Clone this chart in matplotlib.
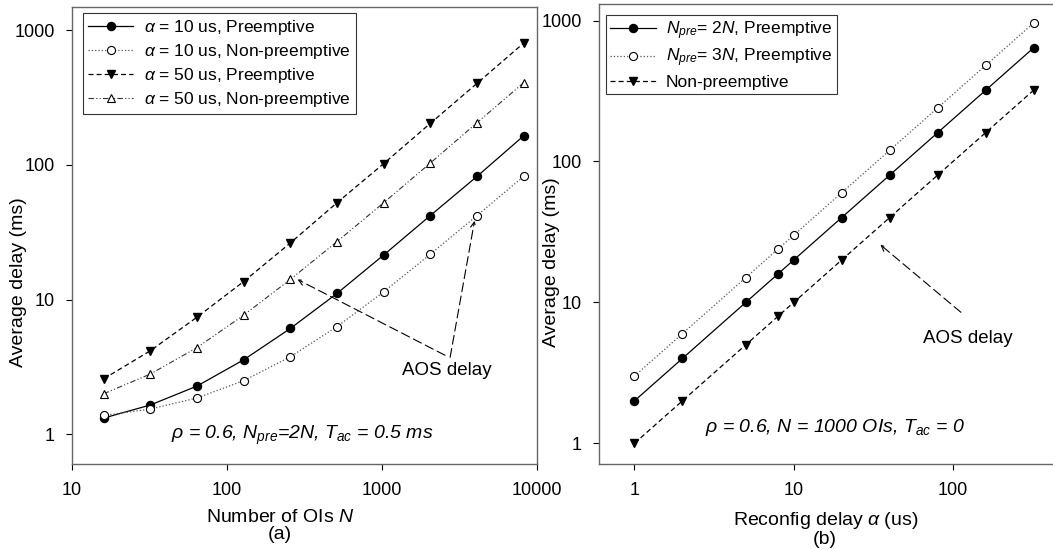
import matplotlib
matplotlib.use("Agg")
import matplotlib.pyplot as plt

plt.rcParams['font.family'] = ['Liberation Sans', 'DejaVu Sans']
plt.rcParams['mathtext.fontset'] = 'custom'
plt.rcParams['mathtext.rm'] = 'Liberation Sans'
plt.rcParams['mathtext.it'] = 'Liberation Sans:italic'
plt.rcParams['mathtext.bf'] = 'Liberation Sans:bold'

# (a) delay vs number of OIs
n_ois = [16, 32, 64, 128, 256, 512, 1024, 2048, 4096, 8192]
a10_pre = [1.32, 1.65, 2.28, 3.57, 6.1, 11.1, 21.4, 42, 82, 164]
a10_non = [1.38, 1.54, 1.86, 2.5, 3.76, 6.3, 11.4, 21.7, 42, 82]
a50_pre = [2.58, 4.17, 7.4, 13.6, 26.3, 52.3, 102, 203, 402, 800]
a50_non = [2.0, 2.8, 4.4, 7.66, 14.1, 26.9, 52.3, 103, 205, 407]

# (b) delay vs reconfig delay
alpha_us = [1, 2, 5, 8, 10, 20, 40, 80, 160, 320]
npre2_pre = [2, 4, 10, 16, 20, 40, 80, 160, 320, 640]
npre3_pre = [3, 6, 15, 24, 30, 60, 120, 240, 480, 960]
b_non = [1, 2, 5, 8, 10, 20, 40, 80, 160, 320]

fig = plt.figure(figsize=(10.53, 5.5), dpi=100)
ax1 = fig.add_axes([0.0684, 0.156, 0.4416, 0.831])
ax2 = fig.add_axes([0.569, 0.156, 0.431, 0.8375])

ms = 5.8
ax1.plot(n_ois, a10_pre, '-', color='black', lw=0.9, marker='o', ms=ms,
         mfc='black', mec='black', label=r'$\alpha$ = 10 us, Preemptive')
ax1.plot(n_ois, a10_non, ':', color='#555555', lw=0.9, marker='o', ms=ms,
         mfc='white', mec='black', mew=0.8, label=r'$\alpha$ = 10 us, Non-preemptive')
ax1.plot(n_ois, a50_pre, '--', color='black', lw=0.9, marker='v', ms=ms,
         mfc='black', mec='black', dashes=(4, 2.5), label=r'$\alpha$ = 50 us, Preemptive')
ax1.plot(n_ois, a50_non, color='#333333', lw=0.8, marker='^', ms=ms,
         mfc='white', mec='black', mew=0.8, linestyle=(0, (5, 2, 1, 2, 1, 2)),
         label=r'$\alpha$ = 50 us, Non-preemptive')

ax2.plot(alpha_us, npre2_pre, '-', color='black', lw=0.9, marker='o', ms=ms,
         mfc='black', mec='black', label=r'$N_{pre}$= 2$N$, Preemptive')
ax2.plot(alpha_us, npre3_pre, ':', color='#555555', lw=0.9, marker='o', ms=ms,
         mfc='white', mec='black', mew=0.8, label=r'$N_{pre}$= 3$N$, Preemptive')
ax2.plot(alpha_us, b_non, '--', color='black', lw=0.9, marker='v', ms=ms,
         mfc='black', mec='black', dashes=(4, 2.5), label='Non-preemptive')

for ax in (ax1, ax2):
    ax.set_xscale('log')
    ax.set_yscale('log')
    ax.minorticks_off()
    ax.tick_params(axis='both', which='major', direction='out', length=4.5,
                   width=0.8, pad=8, labelsize=13, colors='black')
    for sp in ax.spines.values():
        sp.set_color('#666666')
        sp.set_linewidth(1.0)
    ax.set_ylabel('Average delay (ms)', fontsize=14)

ax1.set_xlim(10, 10000)
ax1.set_ylim(0.6, 1480)
ax1.set_xticks([10, 100, 1000, 10000])
ax1.set_xticklabels(['10', '100', '1000', '10000'])
ax1.set_yticks([1, 10, 100, 1000])
ax1.set_yticklabels(['1', '10', '100', '1000'])

ax2.set_xlim(0.6, 424)
ax2.set_ylim(0.71, 1320)
ax2.set_xticks([1, 10, 100])
ax2.set_xticklabels(['1', '10', '100'])
ax2.set_yticks([1, 10, 100, 1000])
ax2.set_yticklabels(['1', '10', '100', '1000'])
ax2.spines['right'].set_visible(False)

ax1.set_xlabel('Number of OIs $N$\n(a)', fontsize=14, linespacing=1.0)
ax2.set_xlabel('Reconfig delay $\\alpha$ (us)\n(b)', fontsize=14, linespacing=1.0)
ax1.xaxis.set_label_coords(0.447, -0.097)
ax2.xaxis.set_label_coords(0.498, -0.099)
ax1.yaxis.set_label_coords(-0.097, 0.398)
ax2.yaxis.set_label_coords(-0.086, 0.439)

leg1 = ax1.legend(loc='upper left', bbox_to_anchor=(0.0237, 0.987), borderaxespad=0,
                  fontsize=12.5, frameon=True, fancybox=False, handlelength=2.6,
                  handletextpad=0.6, labelspacing=0.28, borderpad=0.3)
leg1.get_frame().set_edgecolor('black')
leg1.get_frame().set_linewidth(0.8)
leg2 = ax2.legend(loc='upper left', bbox_to_anchor=(0.0154, 0.976), borderaxespad=0,
                  fontsize=12.5, frameon=True, fancybox=False, handlelength=2.6,
                  handletextpad=0.6, labelspacing=0.3, borderpad=0.25)
leg2.get_frame().set_edgecolor('black')
leg2.get_frame().set_linewidth(0.8)

# annotations
arrow_kw = dict(arrowstyle='->', color='black', lw=0.8, linestyle=(0, (8, 4)),
                shrinkA=0, shrinkB=2)
ax1.annotate('', xy=(275, 14.4), xytext=(2550, 3.86), arrowprops=arrow_kw)
ax1.annotate('', xy=(3980, 40.2), xytext=(2750, 3.73), arrowprops=arrow_kw)
ax1.text(2600, 3.0, 'AOS delay', ha='center', va='center', fontsize=13.5)
ax1.text(0.495, 0.063, r'$\rho$ = 0.6, $N_{pre}$=2$N$, $T_{ac}$ = 0.5 ms',
         transform=ax1.transAxes, ha='center', va='center', fontsize=14, style='italic')

ax2.annotate('', xy=(33.9, 26.4), xytext=(112, 8.5), arrowprops=arrow_kw)
ax2.text(124, 5.57, 'AOS delay', ha='center', va='center', fontsize=13.5)
ax2.text(0.52, 0.08, r'$\rho$ = 0.6, $N$ = 1000 OIs, $T_{ac}$ = 0',
         transform=ax2.transAxes, ha='center', va='center', fontsize=14, style='italic')

fig.savefig('out.png', dpi=100)
